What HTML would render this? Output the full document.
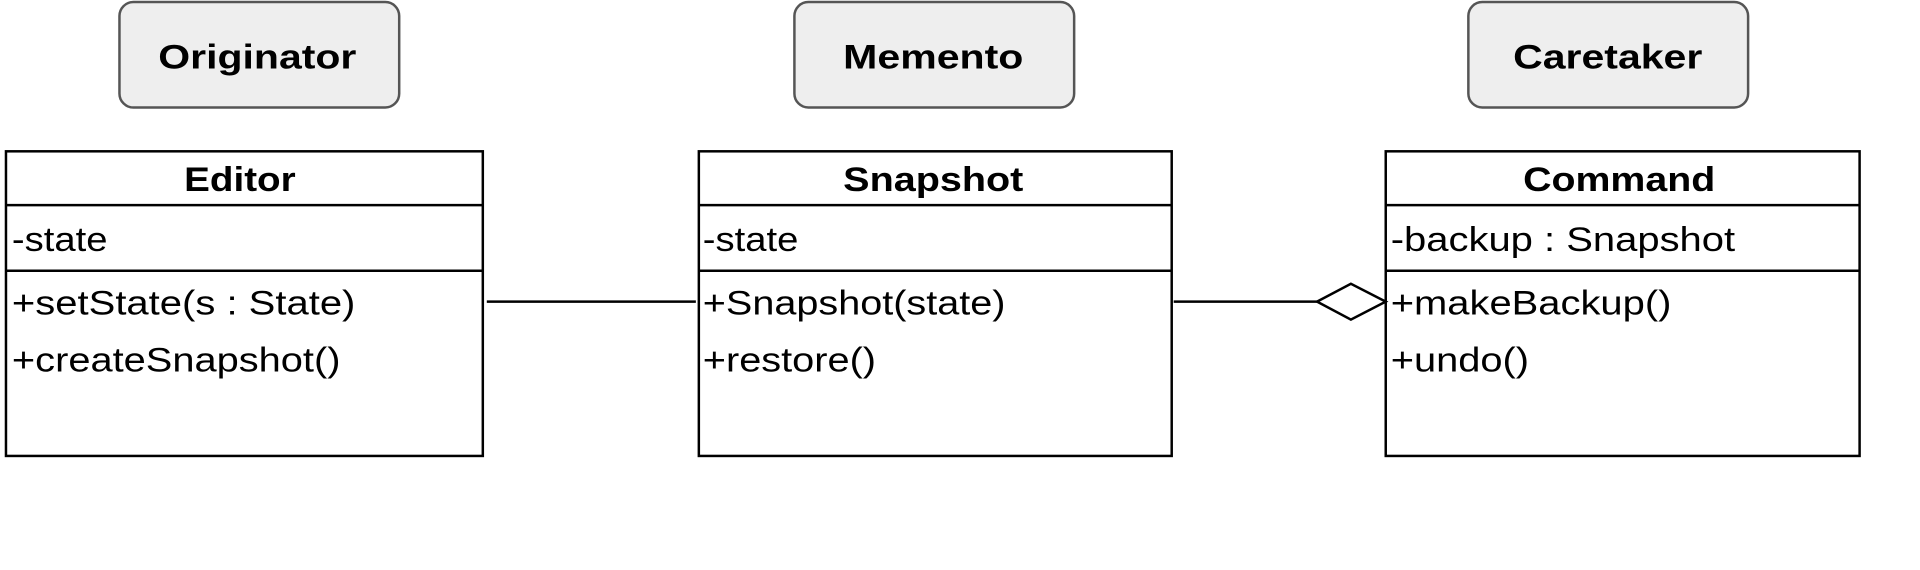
<!DOCTYPE html>
<html><head><meta charset="utf-8"><style>html,body{margin:0;padding:0;background:#fff}svg{display:block}</style></head>
<body>
<svg width="1920" height="570" viewBox="0 0 1920 570" xmlns="http://www.w3.org/2000/svg" font-family="Liberation Sans, Arial, sans-serif">
<g transform="scale(0.9955)">
<g fill="#eeeeee" stroke="#555" stroke-width="2.5">
<rect x="120" y="2" width="281" height="106" rx="14"/>
<rect x="798" y="2" width="281" height="106" rx="14"/>
<rect x="1475" y="2" width="281" height="106" rx="14"/>
</g>
<g font-weight="bold" font-size="34" fill="#000">
<text x="159" y="69" textLength="199" lengthAdjust="spacingAndGlyphs">Originator</text>
<text x="847" y="69" textLength="181" lengthAdjust="spacingAndGlyphs">Memento</text>
<text x="1520" y="69" textLength="190" lengthAdjust="spacingAndGlyphs">Caretaker</text>
<text x="185" y="192" textLength="112" lengthAdjust="spacingAndGlyphs">Editor</text>
<text x="847" y="192" textLength="181" lengthAdjust="spacingAndGlyphs">Snapshot</text>
<text x="1530" y="192" textLength="193" lengthAdjust="spacingAndGlyphs">Command</text>
</g>
<g fill="none" stroke="#000" stroke-width="2.5">
<rect x="6" y="152" width="479" height="306"/>
<line x1="6" y1="206" x2="485" y2="206"/><line x1="6" y1="272" x2="485" y2="272"/>
<rect x="702" y="152" width="475" height="306"/>
<line x1="702" y1="206" x2="1177" y2="206"/><line x1="702" y1="272" x2="1177" y2="272"/>
<rect x="1392" y="152" width="476" height="306"/>
<line x1="1392" y1="206" x2="1868" y2="206"/><line x1="1392" y1="272" x2="1868" y2="272"/>
<line x1="489" y1="303" x2="699" y2="303"/>
<line x1="1179" y1="303" x2="1323" y2="303"/>
<polygon points="1323,303 1357,285 1392,303 1357,321" fill="#fff"/>
</g>
<g font-size="34" fill="#000">
<text x="12" y="252" textLength="96" lengthAdjust="spacingAndGlyphs">-state</text>
<text x="12" y="316" textLength="345" lengthAdjust="spacingAndGlyphs">+setState(s : State)</text>
<text x="12" y="373" textLength="330" lengthAdjust="spacingAndGlyphs">+createSnapshot()</text>
<text x="706" y="252" textLength="96" lengthAdjust="spacingAndGlyphs">-state</text>
<text x="706" y="316" textLength="304" lengthAdjust="spacingAndGlyphs">+Snapshot(state)</text>
<text x="706" y="373" textLength="174" lengthAdjust="spacingAndGlyphs">+restore()</text>
<text x="1397" y="252" textLength="346" lengthAdjust="spacingAndGlyphs">-backup : Snapshot</text>
<text x="1397" y="316" textLength="282" lengthAdjust="spacingAndGlyphs">+makeBackup()</text>
<text x="1397" y="373" textLength="139" lengthAdjust="spacingAndGlyphs">+undo()</text>
</g>
</g>
</svg>
</body></html>
